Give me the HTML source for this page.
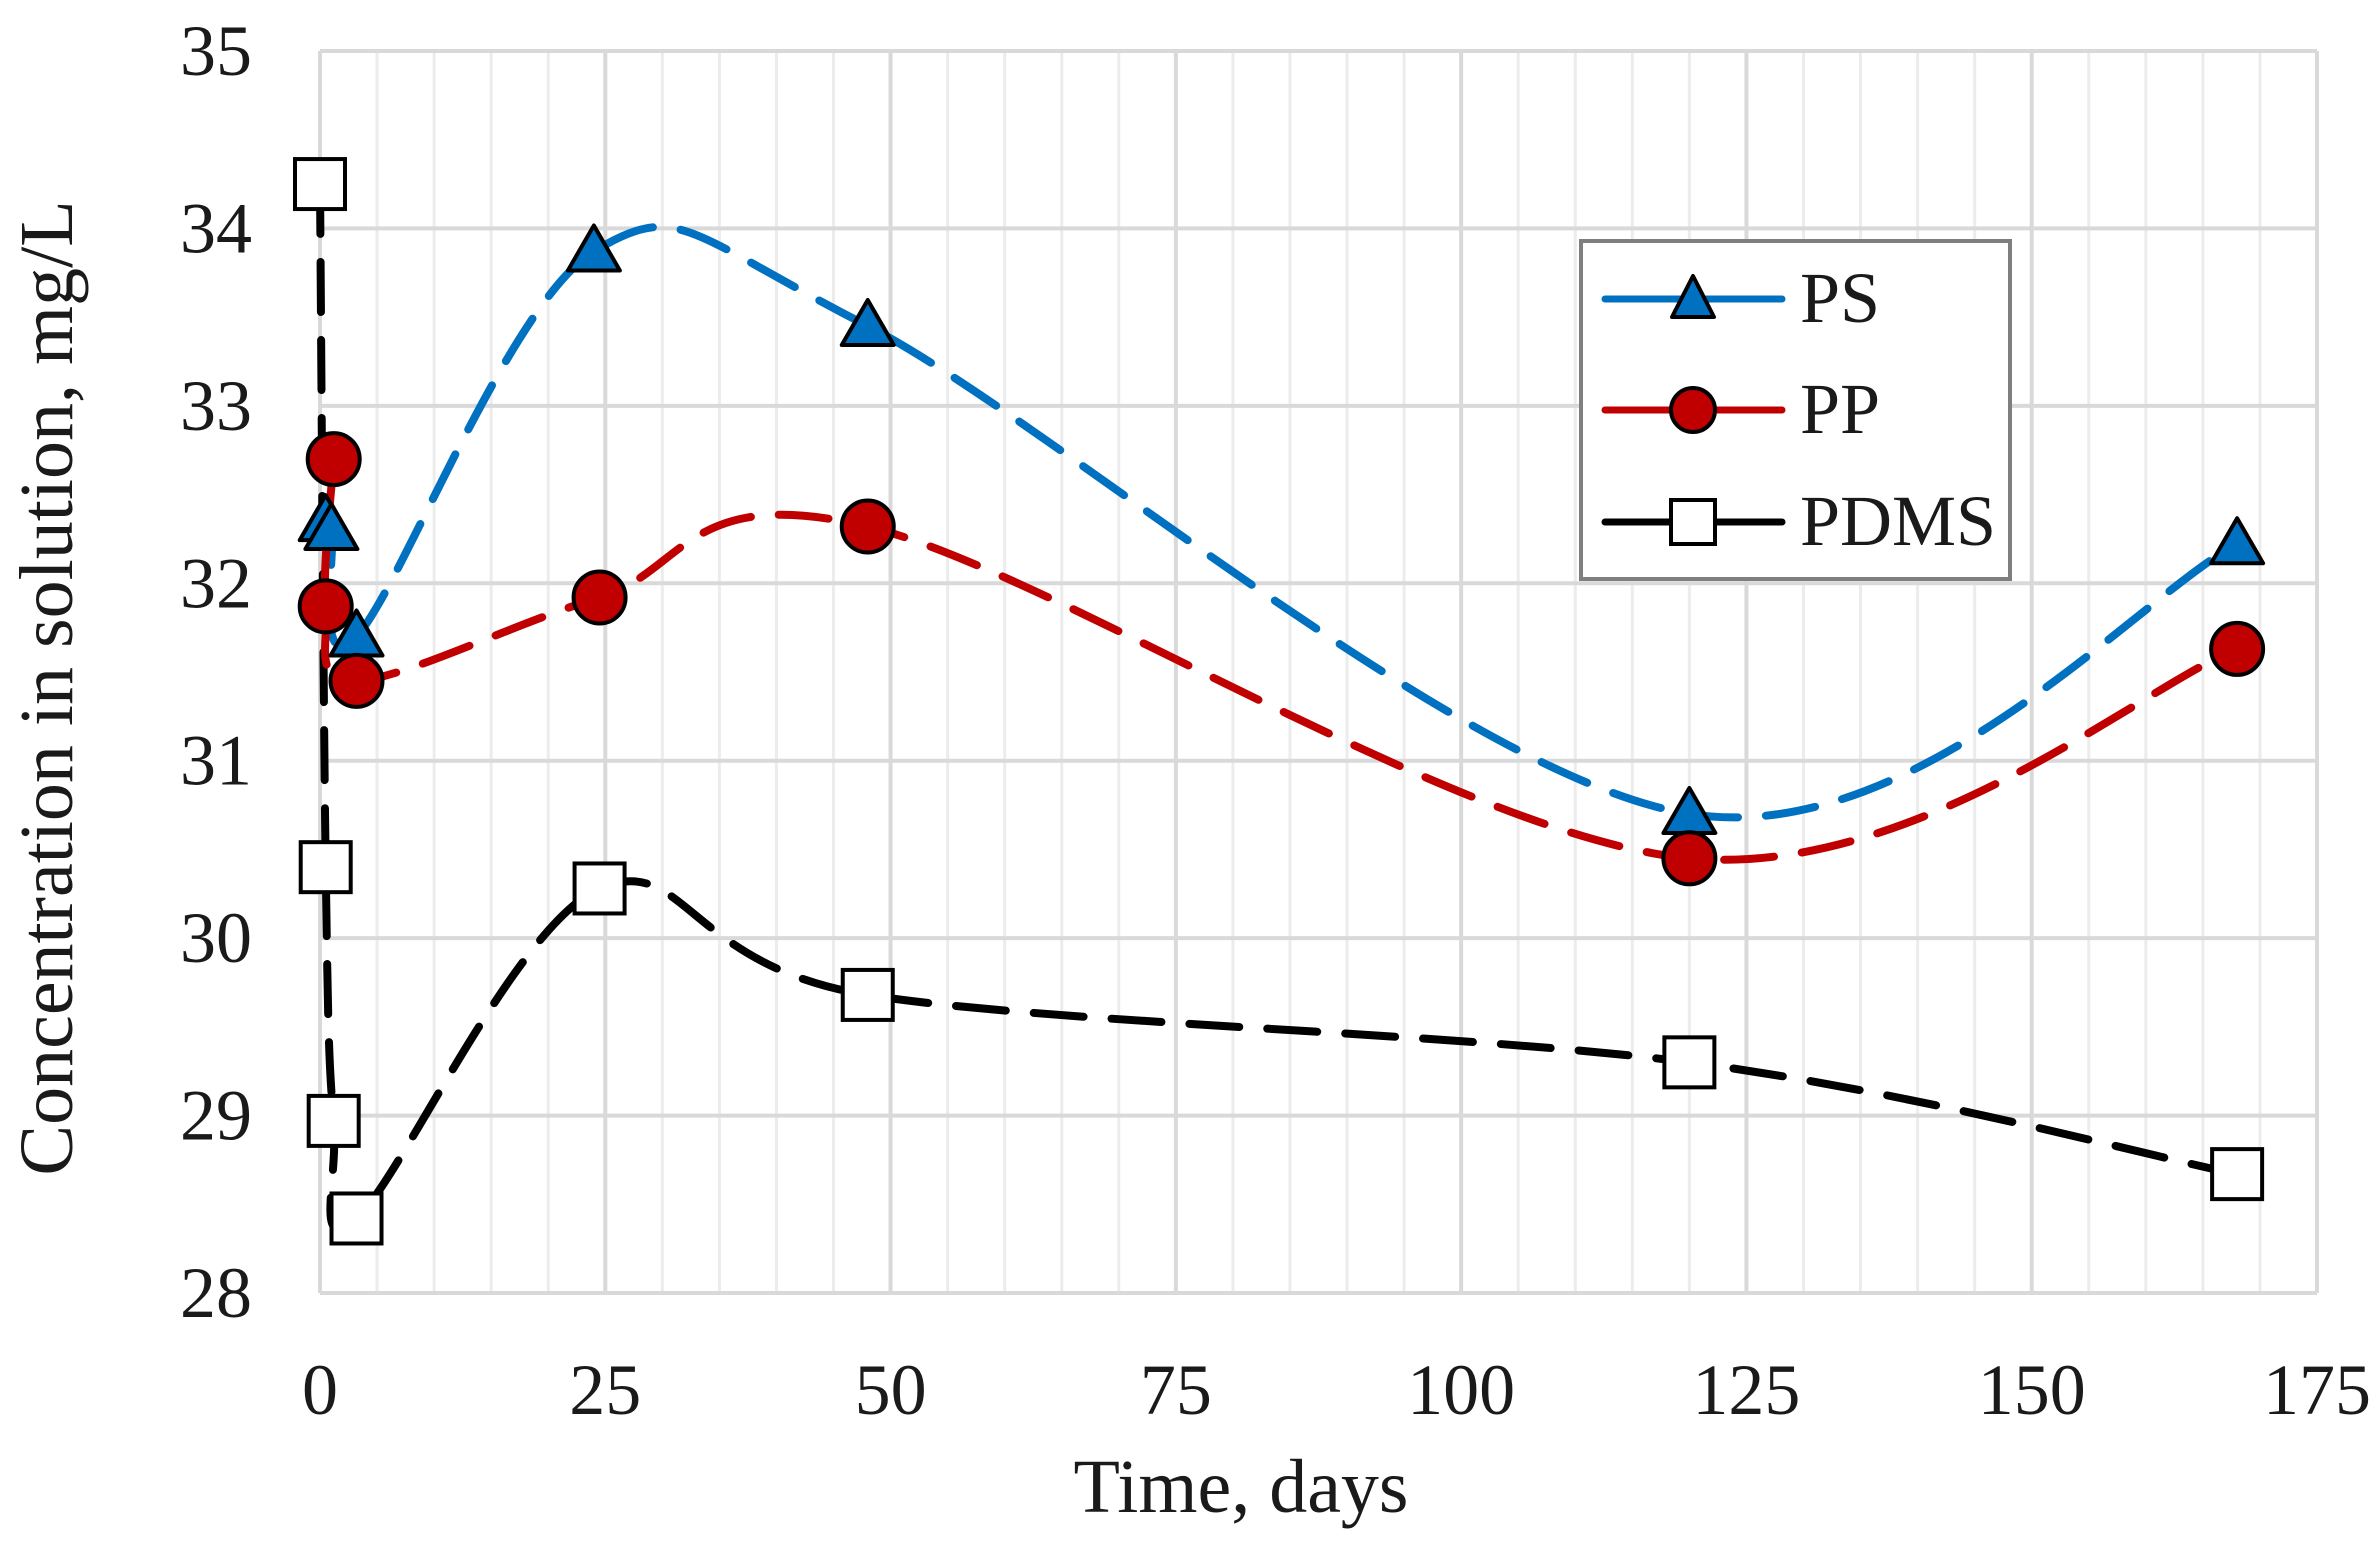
<!DOCTYPE html>
<html><head><meta charset="utf-8"><style>
html,body{margin:0;padding:0;background:#fff;}
svg{display:block;}
text{font-family:"Liberation Serif",serif;fill:#1a1a1a;}
</style></head><body>
<svg id="s" width="2379" height="1554" viewBox="0 0 2379 1554" xmlns="http://www.w3.org/2000/svg">
<g id="grid"></g>
<g id="series"></g>
<g id="labels" font-size="72"></g>
<text x="1241" y="1512" font-size="76" text-anchor="middle">Time, days</text>
<text transform="translate(72,688) rotate(-90)" font-size="76" text-anchor="middle">Concentration in solution, mg/L</text>
<g id="legend">
<rect x="1581" y="241" width="429" height="338" fill="#fff" stroke="#7f7f7f" stroke-width="4"/>
<line x1="1605" y1="299" x2="1782" y2="299" stroke="#0070c0" stroke-width="7" stroke-linecap="round"/>
<polygon points="1693,276 1714,317 1672,317" fill="#0070c0" stroke="#000" stroke-width="4" stroke-linejoin="round"/>
<text x="1800" y="322" font-size="72">PS</text>
<line x1="1605" y1="410" x2="1782" y2="410" stroke="#c00000" stroke-width="7" stroke-linecap="round"/>
<circle cx="1693" cy="410" r="22" fill="#c00000" stroke="#000" stroke-width="4"/>
<text x="1800" y="433" font-size="72">PP</text>
<line x1="1605" y1="522" x2="1782" y2="522" stroke="#000" stroke-width="7" stroke-linecap="round"/>
<rect x="1671" y="500" width="44" height="44" fill="#fff" stroke="#000" stroke-width="4"/>
<text x="1800" y="545" font-size="72">PDMS</text>
</g>
</svg>
<script>
var NS="http://www.w3.org/2000/svg";
var L=320,R=2317,T=51,B=1293;
function X(d){return L+d*(R-L)/175;}
function Y(v){return T+(35-v)*(B-T)/7;}
function el(p,tag,a){var e=document.createElementNS(NS,tag);for(var k in a)e.setAttribute(k,a[k]);p.appendChild(e);return e;}
var g=document.getElementById('grid');
for(var d=5;d<175;d+=5){if(d%25)el(g,'line',{x1:X(d),x2:X(d),y1:T,y2:B,stroke:'#ececec','stroke-width':3});}
for(var v=28;v<=35;v++)el(g,'line',{x1:L,x2:R,y1:Y(v),y2:Y(v),stroke:'#d9d9d9','stroke-width':4});
for(var d=0;d<=175;d+=25)el(g,'line',{x1:X(d),x2:X(d),y1:T,y2:B,stroke:'#d9d9d9','stroke-width':4});
var lb=document.getElementById('labels');
for(var v=28;v<=35;v++){var t=el(lb,'text',{x:252,y:Y(v)+24,'text-anchor':'end'});t.textContent=v;}
for(var d=0;d<=175;d+=25){var t=el(lb,'text',{x:X(d),y:1414,'text-anchor':'middle'});t.textContent=d;}
function path(pts){
 var P=pts.map(function(p){return [X(p[0]),Y(p[1])];});
 var s='M'+P[0][0]+','+P[0][1];
 for(var i=0;i<P.length-1;i++){
  var p0=P[i-1]||P[i],p1=P[i],p2=P[i+1],p3=P[i+2]||P[i+1];
  var k=1/6;
  var c1=[p1[0]+(p2[0]-p0[0])*k,p1[1]+(p2[1]-p0[1])*k];
  var c2=[p2[0]-(p3[0]-p1[0])*k,p2[1]-(p3[1]-p1[1])*k];
  s+=' C'+c1+' '+c2+' '+p2;
 }
 return s;
}
var sg=document.getElementById('series');
var PS=[[0.5,32.35],[1,32.3],[3.2,31.7],[24,33.87],[48,33.45],[120,30.7],[168,32.22]];
var PP=[[1.2,32.7],[0.5,31.87],[3.2,31.45],[24.5,31.92],[48,32.32],[120,30.45],[168,31.63]];
var PD=[[0,34.25],[0.5,30.4],[1.2,28.97],[3.2,28.42],[24.5,30.28],[48,29.68],[120,29.3],[168,28.67]];
var dash='50 28';
el(sg,'path',{d:path(PD),fill:'none',stroke:'#000','stroke-width':8,'stroke-dasharray':dash,'stroke-linecap':'round'});
el(sg,'path',{d:path(PS),fill:'none',stroke:'#0070c0','stroke-width':8,'stroke-dasharray':dash,'stroke-linecap':'round'});
el(sg,'path',{d:path(PP),fill:'none',stroke:'#c00000','stroke-width':8,'stroke-dasharray':dash,'stroke-linecap':'round'});
PD.forEach(function(p){el(sg,'rect',{x:X(p[0])-25,y:Y(p[1])-25,width:50,height:50,fill:'#fff',stroke:'#000','stroke-width':4});});
PS.forEach(function(p){var x=X(p[0]),y=Y(p[1]);el(sg,'polygon',{points:x+','+(y-26)+' '+(x+26)+','+(y+19)+' '+(x-26)+','+(y+19),fill:'#0070c0',stroke:'#000','stroke-width':4,'stroke-linejoin':'round'});});
PP.forEach(function(p){el(sg,'circle',{cx:X(p[0]),cy:Y(p[1]),r:26,fill:'#c00000',stroke:'#000','stroke-width':4});});
</script>
</body></html>
